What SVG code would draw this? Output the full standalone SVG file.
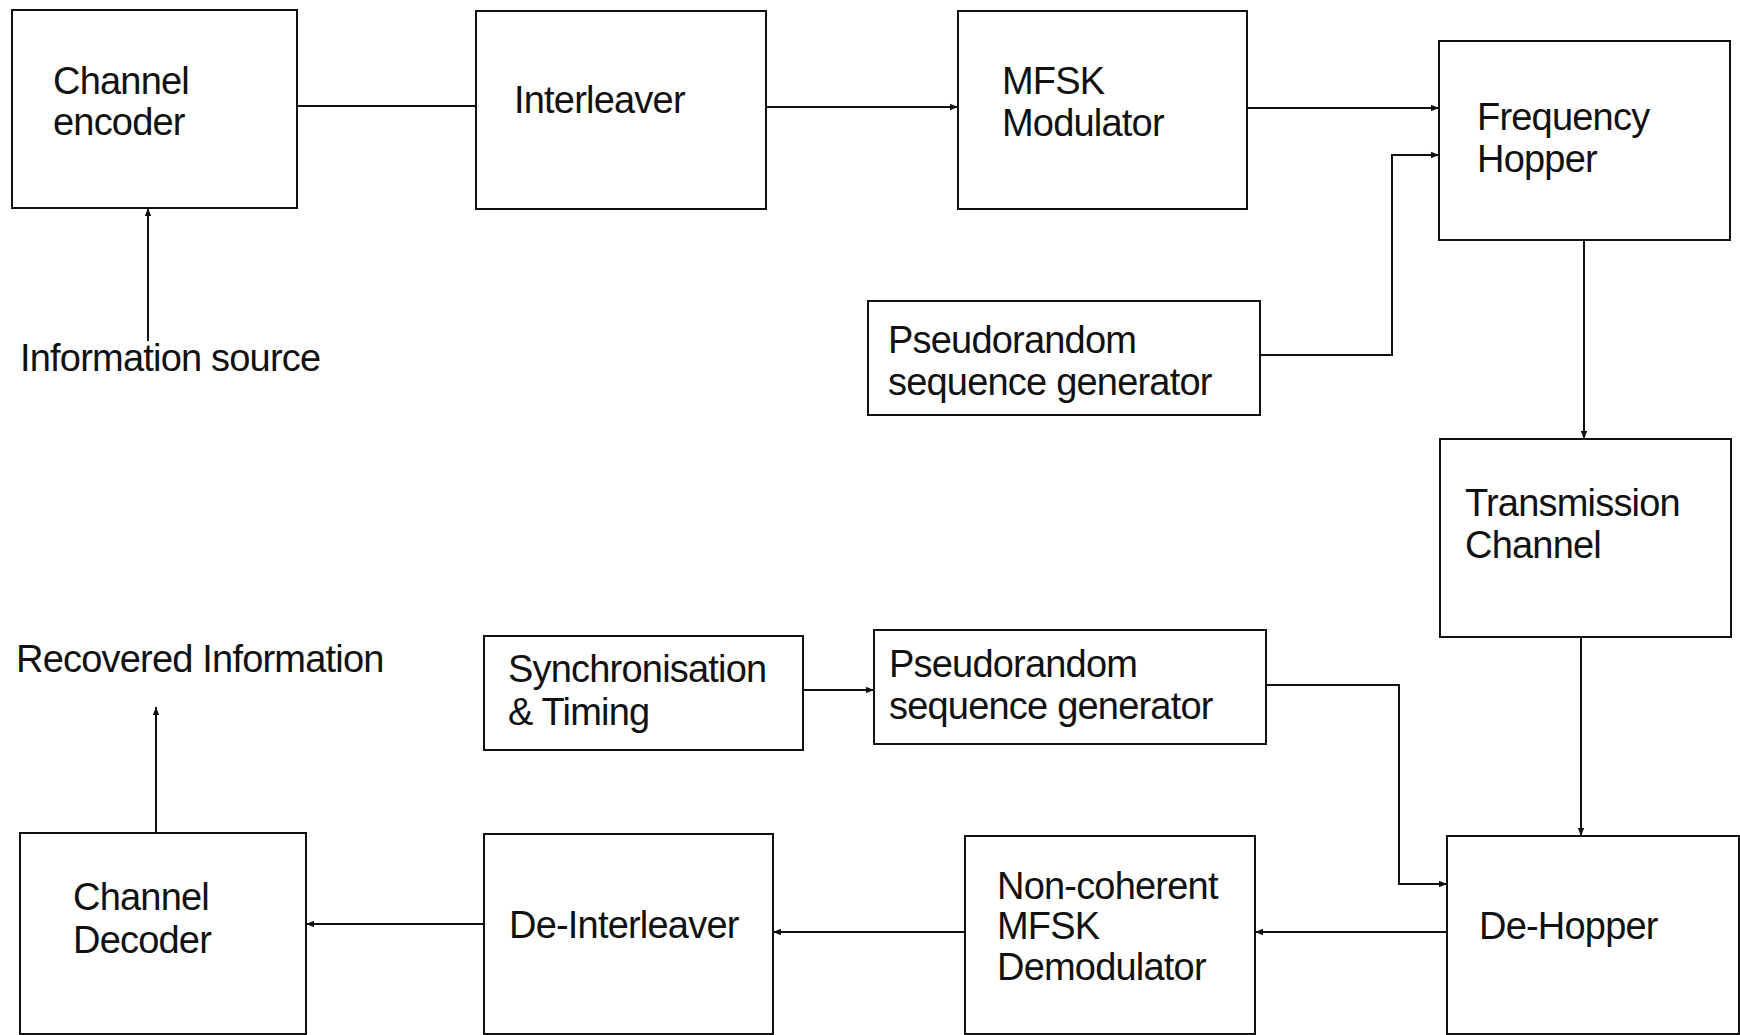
<svg xmlns="http://www.w3.org/2000/svg" width="1740" height="1035" viewBox="0 0 1740 1035">
<style>
.box{fill:#fff;stroke:#111;stroke-width:2}
.t{font-family:"Liberation Sans",Arial,sans-serif;font-size:38px;letter-spacing:-0.8px;fill:#111}
.c{fill:none;stroke:#111;stroke-width:2}
</style>
<defs>
<marker id="ah" viewBox="0 0 10 10" refX="10" refY="5" markerWidth="8" markerHeight="8" markerUnits="userSpaceOnUse" orient="auto">
<path d="M0,1 L10,5 L0,9 z" fill="#111"/>
</marker>
</defs>
<rect width="1740" height="1035" fill="#fff"/>
<g id="connectors">
<path class="c" d="M297,106 L476,106"/>
<path class="c" d="M766,107 L958,107" marker-end="url(#ah)"/>
<path class="c" d="M1247,108 L1439,108" marker-end="url(#ah)"/>
<path class="c" d="M1260,355 L1392,355 L1392,155 L1439,155" marker-end="url(#ah)"/>
<path class="c" d="M1584,240 L1584,439" marker-end="url(#ah)"/>
<path class="c" d="M148,341 L148,208" marker-end="url(#ah)"/>
<path class="c" d="M1581,637 L1581,836" marker-end="url(#ah)"/>
<path class="c" d="M1266,685 L1399,685 L1399,884 L1447,884" marker-end="url(#ah)"/>
<path class="c" d="M803,690 L874,690" marker-end="url(#ah)"/>
<path class="c" d="M1447,932 L1255,932" marker-end="url(#ah)"/>
<path class="c" d="M965,932 L773,932" marker-end="url(#ah)"/>
<path class="c" d="M484,924 L306,924" marker-end="url(#ah)"/>
<path class="c" d="M156,833 L156,707" marker-end="url(#ah)"/>
</g>
<g id="channel-encoder"><rect class="box" x="12" y="10" width="285" height="198"/><text class="t" x="53" y="94">Channel</text><text class="t" x="53" y="135">encoder</text></g>
<g id="interleaver"><rect class="box" x="476" y="11" width="290" height="198"/><text class="t" x="514" y="113">Interleaver</text></g>
<g id="mfsk-modulator"><rect class="box" x="958" y="11" width="289" height="198"/><text class="t" x="1002" y="94">MFSK</text><text class="t" x="1002" y="136">Modulator</text></g>
<g id="frequency-hopper"><rect class="box" x="1439" y="41" width="291" height="199"/><text class="t" x="1477" y="130">Frequency</text><text class="t" x="1477" y="172">Hopper</text></g>
<g id="pn-gen-tx"><rect class="box" x="868" y="301" width="392" height="114"/><text class="t" x="888" y="353">Pseudorandom</text><text class="t" x="888" y="395">sequence generator</text></g>
<g id="information-source"><text class="t" x="20" y="371">Information source</text></g>
<g id="transmission-channel"><rect class="box" x="1440" y="439" width="291" height="198"/><text class="t" x="1465" y="516">Transmission</text><text class="t" x="1465" y="558">Channel</text></g>
<g id="recovered-information"><text class="t" x="16" y="672">Recovered Information</text></g>
<g id="sync-timing"><rect class="box" x="484" y="636" width="319" height="114"/><text class="t" x="508" y="682">Synchronisation</text><text class="t" x="508" y="725">&amp; Timing</text></g>
<g id="pn-gen-rx"><rect class="box" x="874" y="630" width="392" height="114"/><text class="t" x="889" y="677">Pseudorandom</text><text class="t" x="889" y="719">sequence generator</text></g>
<g id="channel-decoder"><rect class="box" x="20" y="833" width="286" height="201"/><text class="t" x="73" y="910">Channel</text><text class="t" x="73" y="953">Decoder</text></g>
<g id="de-interleaver"><rect class="box" x="484" y="834" width="289" height="200"/><text class="t" x="509" y="938">De-Interleaver</text></g>
<g id="demodulator"><rect class="box" x="965" y="836" width="290" height="198"/><text class="t" x="997" y="899">Non-coherent</text><text class="t" x="997" y="939">MFSK</text><text class="t" x="997" y="980">Demodulator</text></g>
<g id="de-hopper"><rect class="box" x="1447" y="836" width="292" height="198"/><text class="t" x="1479" y="939">De-Hopper</text></g>
</svg>
